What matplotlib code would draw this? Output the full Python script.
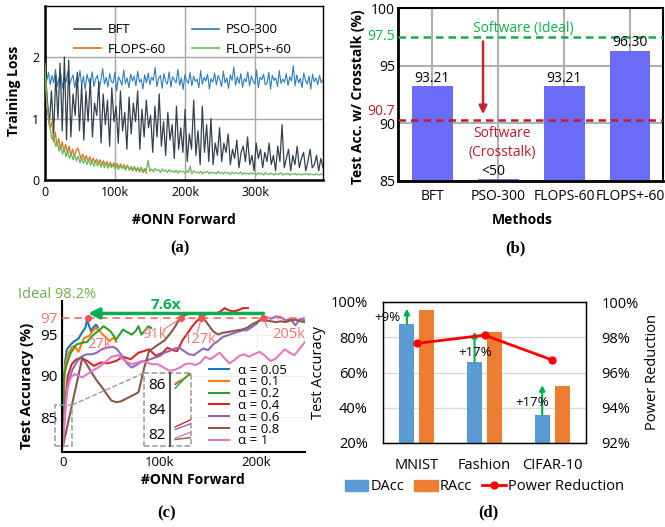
import numpy as np
import matplotlib
matplotlib.use('Agg')
import matplotlib.pyplot as plt
from matplotlib.patches import Rectangle, Patch
from matplotlib.lines import Line2D

plt.rcParams['font.family'] = ['Open Sans', 'DejaVu Sans']
plt.rcParams['axes.unicode_minus'] = False

# ---------------- (a) training loss vs #ONN forward ----------------
loss_end_k = 397    # last sample of BFT / PSO / FLOPS+ (thousands)
flops_end_k = 145   # FLOPS-60 stops earlier

pso_loss = [
    1.92, 1.62, 1.75, 1.55, 1.70, 1.58, 1.80, 1.52, 1.66, 1.74, 1.49, 1.68, 1.59, 1.77, 1.55, 1.63, 1.71, 1.50, 1.66, 1.60,
    1.78, 1.54, 1.69, 1.47, 1.72, 1.61, 1.57, 1.76, 1.52, 1.65, 1.70, 1.48, 1.63, 1.81, 1.56, 1.67, 1.51, 1.73, 1.60, 1.58,
    1.75, 1.45, 1.68, 1.62, 1.54, 1.79, 1.57, 1.66, 1.50, 1.72, 1.61, 1.69, 1.53, 1.77, 1.59, 1.64, 1.48, 1.71, 1.58, 1.74,
    1.55, 1.67, 1.62, 1.83, 1.52, 1.65, 1.70, 1.49, 1.73, 1.60, 1.56, 1.76, 1.51, 1.68, 1.63, 1.58, 1.80, 1.54, 1.66, 1.47,
    1.71, 1.62, 1.57, 1.75, 1.53, 1.69, 1.60, 1.64, 1.50, 1.78, 1.56, 1.67, 1.61, 1.72, 1.48, 1.65, 1.59, 1.74, 1.55, 1.70,
    1.63, 1.52, 1.77, 1.58, 1.66, 1.49, 1.71, 1.62, 1.84, 1.54, 1.68, 1.57, 1.73, 1.51, 1.65, 1.60, 1.76, 1.53, 1.69, 1.61,
    1.56, 1.79, 1.50, 1.67, 1.63, 1.72, 1.55, 1.58, 1.75, 1.48, 1.70, 1.62, 1.66, 1.52, 1.78, 1.57, 1.64, 1.59, 1.73, 1.54,
    1.68, 1.61, 1.86, 1.53, 1.71, 1.58, 1.65, 1.50, 1.74, 1.62, 1.56, 1.69, 1.48, 1.72, 1.60, 1.66, 1.55, 1.70, 1.58, 1.64]

bft_loss = [
    1.85, 1.35, 0.90, 1.45, 0.75, 1.70, 1.00, 1.90, 0.80, 2.00, 0.65, 1.95, 0.70, 1.40, 1.05, 1.75, 0.80, 1.55, 0.65, 1.45,
    0.95, 1.65, 0.70, 1.25, 1.05, 1.60, 0.60, 1.40, 0.90, 1.30, 0.55, 1.50, 0.95, 1.20, 0.60, 1.45, 0.80, 1.10, 0.50, 1.35,
    0.75, 1.25, 0.95, 1.45, 0.50, 1.15, 0.70, 1.30, 0.85, 1.05, 0.45, 1.20, 0.70, 1.40, 0.55, 0.95, 0.40, 1.10, 0.65, 0.90,
    0.35, 1.20, 0.50, 0.85, 0.45, 1.15, 0.30, 0.75, 0.50, 1.30, 0.40, 0.80, 0.25, 1.20, 0.45, 0.90, 0.30, 1.00, 0.25, 0.60,
    0.40, 0.85, 0.30, 0.60, 0.45, 0.75, 0.25, 0.50, 0.35, 0.65, 0.20, 0.45, 0.55, 0.30, 0.70, 0.25, 0.40, 0.15, 0.60, 0.35,
    0.50, 0.20, 0.45, 0.30, 0.60, 0.25, 0.40, 0.15, 0.55, 0.30, 0.90, 0.20, 0.35, 0.50, 0.15, 0.40, 0.25, 0.55, 0.20, 0.35,
    0.45, 0.15, 0.30, 0.50, 0.20, 0.25, 0.40, 0.15, 0.35, 0.20]

flops_loss = [
    1.90, 1.20, 1.05, 0.85, 0.95, 0.62, 0.78, 0.55, 0.68, 0.50, 0.62, 0.46, 0.58, 0.43, 0.55, 0.40, 0.50, 0.38, 0.47, 0.52,
    0.44, 0.34, 0.42, 0.32, 0.40, 0.31, 0.38, 0.29, 0.36, 0.28, 0.34, 0.27, 0.33, 0.25, 0.31, 0.24, 0.30, 0.23, 0.29, 0.22,
    0.28, 0.21, 0.27, 0.20, 0.26, 0.19, 0.25, 0.18, 0.24, 0.16, 0.22, 0.15, 0.21, 0.14, 0.20, 0.13, 0.19, 0.12, 0.17, 0.11]

flops_pm_loss = [
    1.85, 1.30, 0.98, 0.82, 0.66, 0.74, 0.55, 0.63, 0.47, 0.56, 0.42, 0.51, 0.38, 0.47, 0.35, 0.43, 0.33, 0.40, 0.31, 0.39,
    0.28, 0.36, 0.27, 0.34, 0.25, 0.33, 0.24, 0.31, 0.22, 0.30, 0.23, 0.28, 0.21, 0.29, 0.20, 0.27, 0.19, 0.26, 0.20, 0.25,
    0.18, 0.24, 0.17, 0.23, 0.19, 0.22, 0.16, 0.24, 0.17, 0.21, 0.15, 0.22, 0.16, 0.20, 0.15, 0.21, 0.14, 0.19, 0.16, 0.32,
    0.14, 0.18, 0.13, 0.19, 0.15, 0.17, 0.12, 0.18, 0.14, 0.16, 0.12, 0.17, 0.13, 0.15, 0.12, 0.16, 0.11, 0.15, 0.13, 0.14,
    0.11, 0.15, 0.12, 0.22, 0.10, 0.15, 0.12, 0.13, 0.11, 0.14, 0.10, 0.13, 0.12, 0.14, 0.10, 0.13, 0.11, 0.12, 0.10, 0.14,
    0.11, 0.12, 0.10, 0.13, 0.11, 0.12, 0.09, 0.13, 0.10, 0.12, 0.11, 0.10, 0.13, 0.09, 0.12, 0.10, 0.11, 0.09, 0.12, 0.10,
    0.11, 0.09, 0.12, 0.10, 0.11, 0.08, 0.12, 0.10, 0.09, 0.11, 0.10, 0.08, 0.11, 0.09, 0.10, 0.12, 0.08, 0.10, 0.09, 0.11,
    0.08, 0.10, 0.09, 0.11, 0.08, 0.10, 0.09, 0.08, 0.10, 0.09, 0.11, 0.08, 0.10, 0.09, 0.08, 0.10, 0.09, 0.08, 0.10, 0.09]

# ---------------- (b) accuracy under crosstalk ----------------
methods = ['BFT', 'PSO-300', 'FLOPS-60', 'FLOPS+-60']
crosstalk_acc = [93.21, 85.15, 93.21, 96.30]
acc_text = ['93.21', '<50', '93.21', '96.30']
ideal_acc = 97.5
sw_crosstalk_acc = 90.25

# ---------------- (c) test accuracy vs #ONN forward ----------------
alpha_names = ['0.05', '0.1', '0.2', '0.4', '0.6', '0.8', '1']
x_a005 = [0, 2, 4, 8, 12, 16, 20, 23, 25, 27, 29, 31, 34, 36]
y_a005 = [85.9, 91.5, 93.2, 93.8, 94.2, 94.5, 95.3, 95.8, 96.8, 96.0, 95.4, 95.8, 96.2, 95.9]
x_a01 = [0, 2, 5, 9, 12, 16, 19, 22, 27, 30, 34, 38, 41, 45, 48, 52, 55]
y_a01 = [86.0, 91.0, 92.5, 93.5, 93.6, 92.9, 93.8, 94.6, 94.8, 95.3, 95.8, 95.4, 95.0, 94.6, 94.2, 94.6, 94.1]
x_a02 = [0, 1, 4, 8, 14, 20, 25, 30, 36, 42, 49, 55, 62, 66, 71, 75, 78, 81, 85, 88, 91]
y_a02 = [85.6, 90.0, 91.4, 92.8, 93.8, 94.0, 94.1, 94.8, 95.4, 96.0, 95.4, 94.4, 95.6, 95.3, 95.0, 95.4, 96.0, 95.0, 95.5, 96.0, 95.8]
x_a04 = [0, 2, 5, 9, 13, 18, 25, 32, 39, 46, 55, 62, 70, 78, 84, 89, 96, 103, 108, 113, 118, 124, 129, 133,
         138, 142, 147, 152, 157, 163, 167, 172, 177, 182, 186, 191]
y_a04 = [82.5, 86.5, 90.0, 91.4, 91.9, 92.2, 91.8, 91.2, 91.6, 91.5, 91.8, 92.3, 92.0, 92.8, 93.0, 93.2, 92.4, 92.8,
         93.4, 93.1, 93.0, 94.4, 95.2, 95.9, 96.6, 97.0, 97.4, 97.6, 97.5, 97.8, 98.2, 97.9, 97.8, 98.0, 98.2, 98.2]
x_a06 = [0, 3, 6, 10, 15, 20, 25, 30, 35, 40, 45, 52, 56, 61, 66, 71, 76, 81, 85, 90, 95, 100, 105, 110, 115,
         120, 125, 130, 135, 140, 145, 150, 155, 160, 165, 170, 175, 180, 185, 190, 195, 200, 205, 210, 215, 220,
         225, 230, 235, 240, 245, 250]
y_a06 = [82.3, 87.0, 89.5, 90.8, 91.8, 92.4, 92.6, 92.6, 92.8, 93.2, 93.4, 93.5, 93.2, 92.4, 91.5, 91.0, 91.3, 91.7,
         91.8, 92.0, 92.2, 92.4, 92.8, 93.0, 93.3, 93.4, 93.0, 92.6, 92.5, 92.9, 93.3, 93.1, 93.8, 94.2, 94.7, 94.9,
         95.1, 95.3, 95.5, 95.5, 95.9, 96.3, 97.0, 97.1, 96.9, 97.2, 97.1, 96.7, 96.9, 96.1, 96.9, 96.7]
x_a08 = [0, 20, 25, 30, 35, 41, 45, 50, 55, 60, 65, 70, 75, 78, 84, 89, 95, 100, 105, 110, 115, 120, 125, 130,
         135, 140, 145, 150, 155, 160, 165, 170, 175, 180, 185, 190, 195, 200, 205, 210, 215, 220, 225, 230,
         235, 240, 245, 250]
y_a08 = [81.5, 92.2, 91.3, 90.3, 89.4, 88.5, 87.8, 87.0, 86.8, 86.9, 87.2, 87.5, 87.8, 88.0, 91.0, 93.0, 93.5,
         93.9, 94.3, 95.0, 95.8, 96.8, 97.3, 97.5, 97.6, 97.5, 97.0, 96.2, 95.4, 95.0, 95.2, 95.3, 95.4, 95.5,
         95.6, 95.8, 96.2, 96.5, 96.8, 96.7, 96.6, 96.5, 96.6, 96.5, 96.7, 96.8, 96.6, 96.5]
x_a1 = [0, 4, 8, 12, 16, 20, 25, 30, 35, 40, 45, 50, 57, 62, 67, 72, 77, 82, 87, 92, 98, 104, 110, 115, 121,
        126, 131, 137, 142, 147, 152, 157, 162, 167, 172, 177, 182, 187, 192, 197, 203, 208, 214, 219, 224,
        229, 234, 239, 244, 250]
y_a1 = [81.6, 88.2, 89.8, 90.2, 90.0, 89.8, 90.2, 90.6, 90.9, 91.3, 91.8, 92.3, 92.5, 92.0, 91.6, 91.4, 91.6,
        91.8, 91.6, 91.4, 91.4, 91.0, 90.6, 90.7, 91.0, 91.4, 91.5, 91.3, 91.6, 92.3, 92.0, 92.4, 92.8, 92.1,
        91.5, 91.9, 92.4, 92.6, 92.3, 92.6, 92.9, 92.5, 91.8, 92.0, 92.6, 93.2, 92.8, 92.5, 93.2, 94.1]
target_acc = 97
cross_k = [26, 122, 143, 207]
cross_text = ['27k', '91k', '127k', '205k']

# ---------------- (d) DAcc / RAcc / power ----------------
datasets = ['MNIST', 'Fashion', 'CIFAR-10']
dacc = [87.4, 65.8, 36.0]
racc = [95.7, 82.7, 52.4]
power_red = [97.65, 98.12, 96.71]
gain_text = ['+9%', '+17%', '+17%']

W, H = 665, 527
fig = plt.figure(figsize=(W / 100, H / 100), dpi=100)


def px_axes(l, t, r, b):
    return fig.add_axes([l / W, 1 - b / H, (r - l) / W, (b - t) / H])


def k_fmt(v):
    return '0' if v == 0 else f'{int(v)}k'


# ======================= (a) =======================
ax = px_axes(45, 6, 323, 180)
ax.plot(np.linspace(0, loss_end_k, len(pso_loss)), pso_loss, color='#2e7ebf', lw=0.8, label='PSO-300', zorder=2)
ax.plot(np.linspace(0, loss_end_k, len(bft_loss)), bft_loss, color='#35404f', lw=0.9, label='BFT', zorder=3)
ax.plot(np.linspace(0, flops_end_k, len(flops_loss)), flops_loss, color='#e0701e', lw=0.9, label='FLOPS-60', zorder=4)
ax.plot(np.linspace(0, loss_end_k, len(flops_pm_loss)), flops_pm_loss, color='#67b85a', lw=0.9,
        label='FLOPS+-60', zorder=5)
ax.set_xlim(0, loss_end_k)
ax.set_ylim(0, 2.83)
ax.set_xticks([0, 100, 200, 300])
ax.set_xticklabels([k_fmt(v) for v in [0, 100, 200, 300]])
ax.set_yticks([0, 1, 2])
ax.tick_params(length=0, labelsize=9, pad=4)
ax.grid(True, color='#a6a6a6', lw=1.0)
ax.set_axisbelow(True)
for s in ax.spines.values():
    s.set_color('black')
    s.set_linewidth(1.0)
ax.spines['left'].set_linewidth(1.8)
ax.spines['bottom'].set_linewidth(1.8)
h, l = ax.get_legend_handles_labels()
order = [1, 2, 0, 3]
leg = ax.legend([h[i] for i in order], [l[i] for i in order], loc='upper left', bbox_to_anchor=(0.105, 0.9),
                ncol=2, frameon=False, fontsize=9.5, handlelength=2.0, handletextpad=0.55, columnspacing=2.0,
                labelspacing=0.5, borderpad=0, borderaxespad=0)
for ln in leg.get_lines():
    ln.set_linewidth(1.2)
ax.set_xlabel('#ONN Forward', fontweight='bold', fontsize=10, va='center')
ax.xaxis.set_label_coords(0.5, -0.23)
ax.set_ylabel('Training Loss', fontweight='bold', fontsize=10, va='center')
ax.yaxis.set_label_coords(-0.112, 0.514)

# ======================= (b) =======================
ax = px_axes(398, 8, 663, 181)
pos = np.arange(len(methods))
ax.bar(pos, crosstalk_acc, width=0.62, color='#6a6bf6', zorder=2)
ax.set_xlim(-0.52, 3.5)
ax.set_ylim(85, 100)
ax.set_xticks(pos)
ax.set_xticklabels(methods)
ax.set_yticks([85, 90, 95, 100])
ax.tick_params(length=0, labelsize=10, pad=2)
ax.tick_params(axis='x', pad=6)
ax.grid(True, color='#b0b0b0', lw=1.5)
ax.set_axisbelow(True)
for s in ax.spines.values():
    s.set_color('black')
    s.set_linewidth(1.5)
ax.spines['left'].set_linewidth(2.0)
ax.spines['bottom'].set_linewidth(2.0)
green = '#14b04a'
dred = '#c21a2e'
ax.axhline(ideal_acc, color=green, ls='--', lw=1.8, dashes=(3, 2), zorder=3)
ax.axhline(sw_crosstalk_acc, color=dred, ls='--', lw=1.8, dashes=(3, 2), zorder=3)
ytr = ax.get_yaxis_transform()
ax.text(-0.012, ideal_acc, '97.5', color=green, fontsize=10, ha='right', va='center', transform=ytr)
ax.text(-0.012, 91.0, '90.7', color=dred, fontsize=10, ha='right', va='center', transform=ytr)
for i, t in enumerate(acc_text):
    ax.text(pos[i] - (0.07 if i == 1 else 0), crosstalk_acc[i] + 0.05, t, ha='center', va='bottom', fontsize=10)
ax.annotate('', xy=(0.77, 90.8), xytext=(0.77, 97.1),
            arrowprops=dict(arrowstyle='-|>', color='#c0282f', lw=1.8, mutation_scale=12, shrinkA=0, shrinkB=0))
ax.text(1.38, 98.25, 'Software (Ideal)', color=green, fontsize=10, ha='center', va='center')
ax.text(1.06, 88.3, 'Software\n(Crosstalk)', color=dred, fontsize=10, ha='center', va='center',
        linespacing=1.3)
ax.set_xlabel('Methods', fontweight='bold', fontsize=10, va='center')
ax.xaxis.set_label_coords(0.468, -0.225)
ax.set_ylabel('Test Acc. w/ Crosstalk (%)', fontweight='bold', fontsize=10, va='center')
ax.yaxis.set_label_coords(-0.151, 0.487)

# ======================= (c) =======================
ax = px_axes(62, 301, 305, 452)
series = [(x_a005, y_a005, '#1f77b4'), (x_a01, y_a01, '#ff7f0e'), (x_a02, y_a02, '#2ca02c'),
          (x_a04, y_a04, '#d62728'), (x_a06, y_a06, '#9467bd'), (x_a08, y_a08, '#8c564b'),
          (x_a1, y_a1, '#e377c2')]
for (xs, ys, c), a in zip(series, alpha_names):
    ax.plot(xs, ys, color=c, lw=1.5, label=f'α = {a}')
ax.set_xlim(-1, 250)
ax.set_ylim(80.76, 99.06)
ax.set_xticks([0, 100, 200])
ax.set_xticklabels([k_fmt(v) for v in [0, 100, 200]])
ax.set_yticks([85, 90, 95, 97])
ax.tick_params(length=0, pad=3)
ax.tick_params(axis='x', labelsize=9.5)
ax.tick_params(axis='y', labelsize=11)
salmon = '#f77272'
ax.get_yticklabels()[-1].set_color(salmon)
ax.grid(True, color='#efefef', lw=0.8)
ax.set_axisbelow(True)
for s in ['top', 'right']:
    ax.spines[s].set_visible(False)
for s in ['left', 'bottom']:
    ax.spines[s].set_linewidth(1.5)
    ax.spines[s].set_color('black')
ax.axhline(target_acc, color=salmon, ls='--', lw=1.3, dashes=(4, 3), zorder=4)
ax.plot(cross_k, [target_acc] * len(cross_k), 'o', color='#f05252', ms=4, zorder=6)
ax.annotate('', xy=(26, 97.55), xytext=(207, 97.55),
            arrowprops=dict(arrowstyle='-|>', color='#00b050', lw=2.5, mutation_scale=16, shrinkA=0, shrinkB=0),
            zorder=7)
ax.text(106, 98.55, '7.6x', color='#00b050', fontweight='bold', fontsize=11, ha='center', va='center')
lbl_pos = [(38, 93.8), (94, 95.0), (142, 94.4), (233, 95.0)]
lbl_from = [None, (104, 95.6), (139, 95.3), (211, 95.9)]
for k, t, p, f in zip(cross_k, cross_text, lbl_pos, lbl_from):
    ax.text(p[0], p[1], t, color=salmon, fontsize=10.5, ha='center', va='center', zorder=6)
    if f is not None:
        ax.plot([f[0], k], [f[1], target_acc], color=salmon, lw=0.8, zorder=5)
fig.text(57 / W, 1 - 295 / H, 'Ideal 98.2%', color='#70ad47', fontsize=10.5, ha='center', va='center')
# zoom boxes
ax.add_patch(Rectangle((-8.2, 81.48), 17.5, 86.45 - 81.48, fill=False, ls='--', lw=1.1, ec='#9a9a9a',
                       clip_on=False, zorder=3))
ax.add_patch(Rectangle((83.7, 81.48), 132.3 - 83.7, 90.33 - 81.48, fill=True, fc='white', ls='--', lw=1.1,
                       ec='#9a9a9a', clip_on=False, zorder=3))
ax.plot([9.3, 83.7], [86.45, 90.33], color='#9a9a9a', ls='--', lw=1.0, zorder=3)
leg = ax.legend(loc='upper left', bbox_to_anchor=(0.605, 0.586), frameon=False, fontsize=9.5, handlelength=1.55,
                handletextpad=0.65, labelspacing=-0.09, borderpad=0, borderaxespad=0)
leg.set_zorder(8)
ax.set_xlabel('#ONN Forward', fontweight='bold', fontsize=10, va='center')
ax.xaxis.set_label_coords(0.539, -0.185)
ax.set_ylabel('Test Accuracy (%)', fontweight='bold', fontsize=10.5, va='center')
ax.yaxis.set_label_coords(-0.144, 0.438)

ins = px_axes(170, 373, 191, 446)
for xs, ys, c in series:
    ins.plot(xs, ys, color=c, lw=1.0)
ins.set_xlim(-0.1, 0.3)
ins.set_ylim(80.98, 86.82)
ins.set_xticks([])
ins.set_yticks([82, 84, 86])
ins.tick_params(length=0, labelsize=11, pad=3)
ins.patch.set_alpha(0)
for s in ['top', 'right', 'bottom']:
    ins.spines[s].set_visible(False)
ins.spines['left'].set_color('#555555')
ins.spines['left'].set_linewidth(1.5)

# ======================= (d) =======================
ax = px_axes(383, 302, 586, 443)
xd = np.arange(len(datasets))
ax.bar(xd - 0.147, dacc, 0.22, color='#5b9bd5', label='DAcc', zorder=2)
ax.bar(xd + 0.147, racc, 0.22, color='#ed7d31', label='RAcc', zorder=2)
ax.set_xlim(-0.5, 2.5)
ax.set_ylim(20, 100)
ax.set_yticks([20, 40, 60, 80, 100])
ax.set_yticklabels([f'{v}%' for v in [20, 40, 60, 80, 100]])
ax.set_xticks(xd)
ax.set_xticklabels(datasets)
ax.tick_params(length=0, labelsize=10.5, pad=11)
ax.yaxis.grid(True, color='#d9d9d9', lw=1.0)
ax.set_axisbelow(True)
for s in ax.spines.values():
    s.set_color('black')
    s.set_linewidth(0.9)
for i in range(len(datasets)):
    ax.annotate('', xy=(xd[i] - 0.147, racc[i] + 0.5), xytext=(xd[i] - 0.147, dacc[i]),
                arrowprops=dict(arrowstyle='-|>', color='#00b050', lw=1.5, mutation_scale=8, shrinkA=0, shrinkB=0),
                zorder=4)
gain_pos = [(-0.43, 91.0), (0.86, 71.2), (1.71, 42.9)]
for t, p in zip(gain_text, gain_pos):
    ax.text(p[0], p[1], t, fontsize=9.5, ha='center', va='center', zorder=5)
ax.set_ylabel('Test Accuracy', fontsize=10.5, va='center')
ax.yaxis.set_label_coords(-0.32, 0.5)
ax2 = ax.twinx()
ax2.plot(xd, power_red, color='#ff0000', lw=2, marker='o', ms=5, label='Power Reduction')
ax2.set_ylim(92, 100)
ax2.set_yticks([92, 94, 96, 98, 100])
ax2.set_yticklabels([f'{v}%' for v in [92, 94, 96, 98, 100]])
ax2.tick_params(length=0, labelsize=10.5, pad=11)
for s in ax2.spines.values():
    s.set_color('black')
    s.set_linewidth(0.9)
ax2.set_ylabel('Power Reduction', fontsize=10.5, rotation=90, va='center')
ax2.yaxis.set_label_coords(1.33, 0.5)
handles = [Patch(color='#5b9bd5', label='DAcc'), Patch(color='#ed7d31', label='RAcc'),
           Line2D([0], [0], color='#ff0000', lw=2, marker='o', ms=5, label='Power Reduction')]
fig.legend(handles=handles, loc='center', bbox_to_anchor=(484.5 / W, 1 - 487 / H), ncol=3, frameon=False,
           fontsize=10.5, handlelength=1.6, handletextpad=0.15, columnspacing=0.7, borderpad=0)

# panel labels
for txt, (px, py) in zip(['(a)', '(b)', '(c)', '(d)'], [(180, 248), (515, 248), (167, 513), (488, 512)]):
    fig.text(px / W, 1 - py / H, txt, family=['Liberation Serif', 'DejaVu Serif'], fontweight='bold',
             fontsize=12, ha='center', va='center')

fig.savefig('out.png', dpi=100)
